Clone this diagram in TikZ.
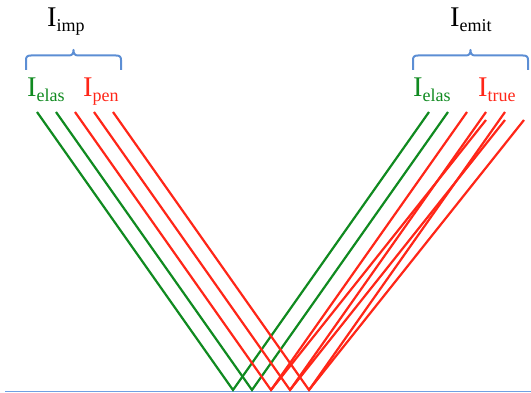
\documentclass[tikz,border=0pt]{standalone}
\usepackage{fontspec}
\setmainfont{Liberation Serif}
\usepackage{xcolor}
\usepackage{tikz}
\usetikzlibrary{calc}
\definecolor{elasgreen}{RGB}{16,138,32}
\definecolor{penred}{RGB}{255,38,24}
\definecolor{braceblue}{RGB}{92,142,212}
\definecolor{surfblue}{RGB}{112,160,226}
\newcommand{\intens}[1]{I\raisebox{-4.5pt}{\fontsize{18}{20}\selectfont #1}}
\newcommand{\grpbrace}[3]{%
  \draw[grp] (#1,70) -- (#1,60) .. controls (#1,56.5) and ($(#1,55.5)+(1.5,0)$) .. ($(#1,55.5)+(5,0)$)
    -- ($(#2,55.5)-(5,0)$) .. controls ($(#2,55.5)-(1.5,0)$) and (#2,54) .. (#2,50)
    .. controls (#2,54) and ($(#2,55.5)+(1.5,0)$) .. ($(#2,55.5)+(5,0)$)
    -- ($(#3,55.5)-(5,0)$) .. controls ($(#3,55.5)-(1.5,0)$) and (#3,56.5) .. (#3,60) -- (#3,70);}
\tikzset{
  lbl/.style    ={inner sep=0pt, anchor=base west, font=\fontsize{28.5}{30}\selectfont},
  elasray/.style={draw=elasgreen, line width=2.2pt, line join=miter},
  penray/.style ={draw=penred, line width=2.2pt, line join=miter},
  grp/.style    ={draw=braceblue, line width=2pt, line join=round},
}
\begin{document}
\begin{tikzpicture}[x=1pt,y=-1pt]
  \useasboundingbox (0,0) rectangle (531,393);
  % labels
  \node[lbl] (imp)   at (47,27)  {\intens{imp}};
  \node[lbl] (emit)  at (450,27) {\intens{emit}};
  \node[lbl, text=elasgreen] (elasin)  at (27,97)  {\intens{elas}};
  \node[lbl, text=penred]    (pen)     at (83,97)  {\intens{pen}};
  \node[lbl, text=elasgreen] (elasout) at (413,97) {\intens{elas}};
  \node[lbl, text=penred]    (true)    at (478,97) {\intens{true}};
  \grpbrace{26}{73.5}{121}
  \grpbrace{413}{470.5}{528}
  % surface and impact points
  \coordinate (surfl) at (5,391.5);
  \coordinate (surfr) at (531,391.5);
  \draw[surfblue, line width=1.6pt] (surfl) -- (surfr);
  \foreach \i/\x in {1/233,2/252,3/271,4/290,5/309} {
    \coordinate (hit\i) at (\x,390);
    \coordinate (in\i)  at (\x-196,112);
    \coordinate (out\i) at (\x+196,112);
    \coordinate (sec\i) at (\x+215,120);
  }
  % rays
  \draw[elasray] (in1) -- (hit1) -- (out1);
  \draw[elasray] (in2) -- (hit2) -- (out2);
  \draw[penray] (in3) -- (hit3) -- (out3); \draw[penray] (hit3) -- (sec3);
  \draw[penray] (in4) -- (hit4) -- (out4); \draw[penray] (hit4) -- (sec4);
  \draw[penray] (in5) -- (hit5) -- (out5); \draw[penray] (hit5) -- (sec5);
\end{tikzpicture}
\end{document}
